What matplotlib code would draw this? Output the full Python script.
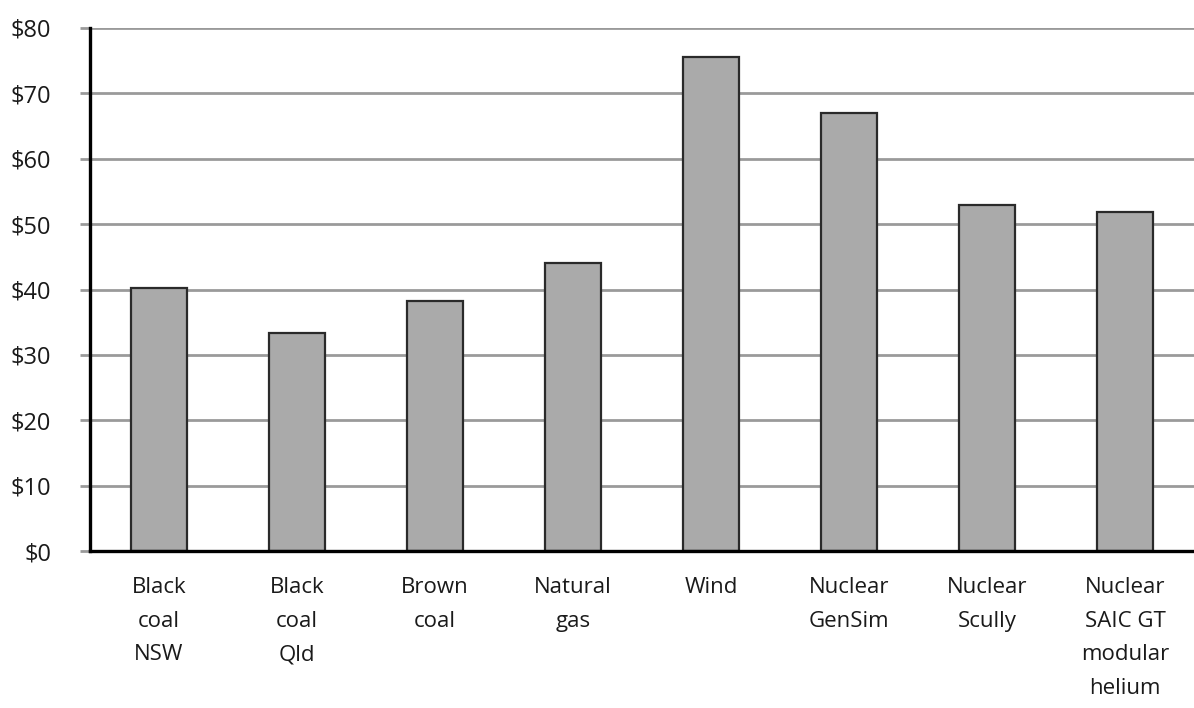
import numpy as np
import matplotlib.pyplot as plt

categories = ["Black\ncoal\nNSW", "Black\ncoal\nQld", "Brown\ncoal", "Natural\ngas",
              "Wind", "Nuclear\nGenSim", "Nuclear\nScully", "Nuclear\nSAIC GT\nmodular\nhelium"]
costs = [40.2, 33.3, 38.2, 44.0, 75.5, 67.0, 53.0, 51.8]
y_ticks = [0, 10, 20, 30, 40, 50, 60, 70, 80]
y_labels = ["$" + str(v) for v in y_ticks]

plt.rcParams['font.family'] = ['Open Sans', 'DejaVu Sans']

fig = plt.figure(figsize=(11.94, 7.08), dpi=100)
ax = fig.add_axes([90 / 1194, 157 / 708, 1 - 90 / 1194, 523 / 708])

x = np.arange(len(categories))
ax.bar(x, costs, width=0.40, color='#aaaaaa', edgecolor='#2a2a2a', linewidth=1.6, zorder=3)

ax.set_xlim(-0.5, 7.5)
ax.set_ylim(0, 80)
ax.set_yticks(y_ticks)
ax.set_yticklabels(y_labels, fontsize=17, color='#1a1a1a')
ax.set_xticks(x)
ax.set_xticklabels(categories, fontsize=16, color='#1a1a1a', linespacing=1.78, va='top')

ax.yaxis.grid(True, color='#9a9a9a', linewidth=2.0, zorder=0)
ax.set_axisbelow(True)
ax.tick_params(axis='y', length=7, width=2, color='#9a9a9a', pad=21)
ax.tick_params(axis='x', length=0, pad=19)

for side in ['top', 'right']:
    ax.spines[side].set_visible(False)
for side in ['left', 'bottom']:
    ax.spines[side].set_linewidth(2.4)
    ax.spines[side].set_color('black')
    ax.spines[side].set_zorder(4)
ax.spines['left'].set_bounds(0, 80)

fig.savefig('out.png', dpi=100)
